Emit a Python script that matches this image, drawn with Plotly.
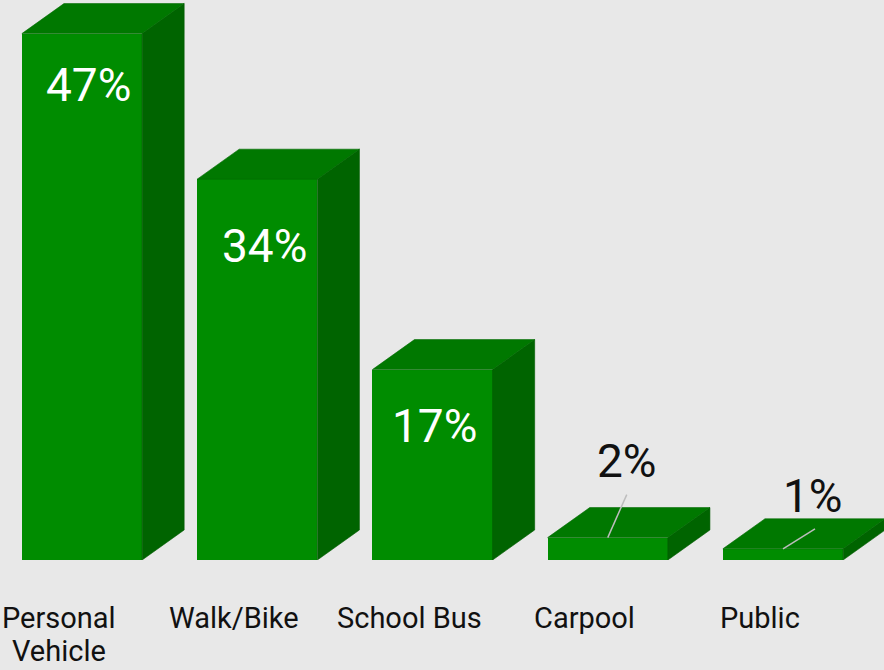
import plotly.graph_objects as go

# Share of students by mode of travel to school (%)
categories = ["Personal<br>Vehicle", "Walk/Bike", "School Bus", "Carpool", "Public"]
shares = [47, 34, 17, 2, 1]
value_labels = ["47%", "34%", "17%", "2%", "1%"]

# drawing geometry (axis units)
BAR_W = 0.686
DEPTH_X = 0.24
DEPTH_Y = 2.68
FRONT = "#008c00"
TOP = "#007800"
SIDE = "#006400"
PX_X = 175.25   # pixels per x unit
PX_Y = 11.2     # pixels per y unit

xs = list(range(len(shares)))

fig = go.Figure()

# top and right faces for the 3D look
for x, v in zip(xs, shares):
    x0, x1 = x - BAR_W / 2, x + BAR_W / 2
    fig.add_trace(go.Scatter(
        x=[x1, x1, x1 + DEPTH_X, x1 + DEPTH_X, x1],
        y=[0, v, v + DEPTH_Y, DEPTH_Y, 0],
        fill="toself", fillcolor=SIDE, mode="lines",
        line=dict(width=0.6, color="#005a00"), hoverinfo="skip", showlegend=False))
    fig.add_trace(go.Scatter(
        x=[x0, x1, x1 + DEPTH_X, x0 + DEPTH_X, x0],
        y=[v, v, v + DEPTH_Y, v + DEPTH_Y, v],
        fill="toself", fillcolor=TOP, mode="lines",
        line=dict(width=0.6, color="#006a00"), hoverinfo="skip", showlegend=False))

# front faces
fig.add_trace(go.Bar(
    x=xs, y=shares, width=BAR_W, marker=dict(color=FRONT, line=dict(width=0)),
    hoverinfo="skip", showlegend=False))

# value labels: inside for tall bars, outside with leader lines for short ones
inside_shift = [(6, -51), (7, -67), (2, -56)]
outside_text = {3: (19, -77), 4: (30, -53)}
outside_leader = {3: (19, 43), 4: (32, 20)}
for i, (v, lab) in enumerate(zip(shares, value_labels)):
    if i in outside_text:
        tx, ty = outside_text[i]
        lx, ly = outside_leader[i]
        fig.add_trace(go.Scatter(
            x=[i, i + lx / PX_X], y=[v, v + ly / PX_Y], mode="lines",
            line=dict(width=1.5, color="#bdbdbd"), hoverinfo="skip", showlegend=False))
        fig.add_annotation(
            x=i, y=v, text=lab, showarrow=False, xshift=tx, yshift=-ty,
            font=dict(family="Roboto", size=46, color="#111111"))
    else:
        dx, dy = inside_shift[i]
        fig.add_annotation(
            x=i, y=v, text=lab, showarrow=False, xshift=dx, yshift=dy,
            font=dict(family="Roboto", size=46, color="white"))

# category labels under the bars, one annotation per text line
for i, c in enumerate(categories):
    for k, line in enumerate(c.split("<br>")):
        fig.add_annotation(
            x=i, y=0, text=line, showarrow=False, yanchor="middle", borderpad=0,
            yshift=-58 - 33 * k, xshift=-23,
            font=dict(family="Roboto", size=29, color="#111111"))

fig.update_layout(
    width=884, height=670,
    margin=dict(l=0, r=0, t=0, b=110),
    paper_bgcolor="#e8e8e8", plot_bgcolor="#e8e8e8",
    bargap=0,
    xaxis=dict(range=[-82 / PX_X, 802 / PX_X], visible=False, fixedrange=True),
    yaxis=dict(range=[0, 50], visible=False, fixedrange=True),
)

fig.write_html("out.html")
